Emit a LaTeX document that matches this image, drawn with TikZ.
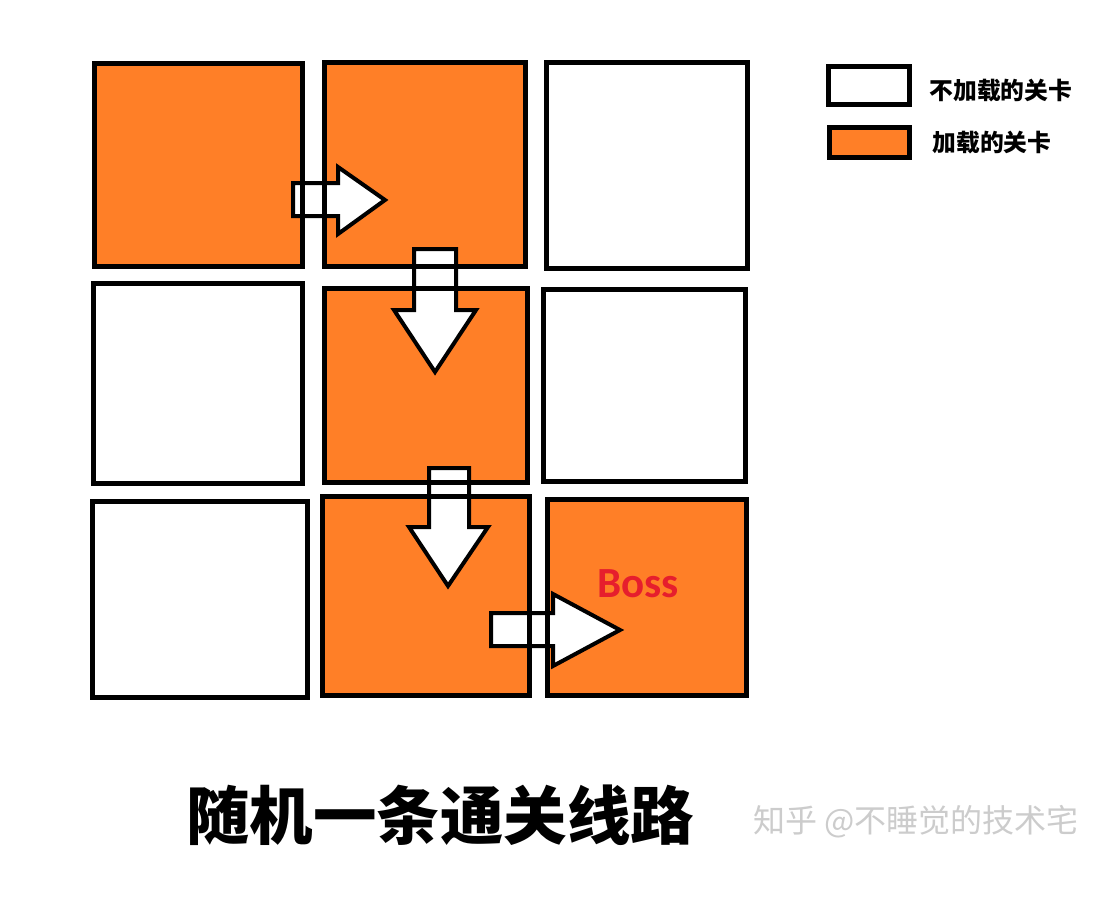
\documentclass[tikz,border=0pt]{standalone}
\usepackage{fontspec}
\newfontfamily\cjk{Noto Sans CJK SC}
\newfontfamily\bossfont{Carlito}
\definecolor{lvorange}{RGB}{255,127,39}
\definecolor{bossred}{RGB}{230,30,45}
\tikzset{
  level/.style={line width=5pt},
  loaded/.style={fill=lvorange},
  bigarrow/.style={fill=white,draw=black,line width=4pt,line join=miter},
  legendtext/.style={font=\cjk\bfseries\fontsize{23.8}{24}\selectfont,anchor=west}
}

\begin{document}
\begin{tikzpicture}[x=1pt,y=-1pt]
\useasboundingbox[fill=white] (0,0) rectangle (1111,897);

% loaded levels
\fill[loaded] (94,63) rectangle (302,266);
\fill[loaded] (324,62) rectangle (525,266);
\fill[loaded] (324,288) rectangle (527,482);
\fill[loaded] (322,496) rectangle (529,695);
\fill[loaded] (547,499) rectangle (746,695);

% path
\draw[bigarrow] (293,183) -- (338,183) -- (338,167) -- (385,200) -- (338,234) -- (338,216) -- (293,216) -- cycle;
\draw[bigarrow] (414,249) -- (456,249) -- (456,310) -- (476,310) -- (435,372) -- (394,310) -- (414,310) -- cycle;
\draw[bigarrow] (429,468) -- (469,468) -- (469,527) -- (488,527) -- (448,586) -- (409,527) -- (429,527) -- cycle;
\draw[bigarrow] (491,613) -- (553,613) -- (553,594) -- (620,630) -- (553,666) -- (553,646) -- (491,646) -- cycle;

% level borders
\draw[level] (94,63) rectangle (302,266);
\draw[level] (324,62) rectangle (525,266);
\draw[level] (546,62) rectangle (747,268);
\draw[level] (93,283) rectangle (302,483);
\draw[level] (324,288) rectangle (527,482);
\draw[level] (543,289) rectangle (745,481);
\draw[level] (92,501) rectangle (307,697);
\draw[level] (322,496) rectangle (529,695);
\draw[level] (547,499) rectangle (746,695);

\node[font=\bossfont\bfseries\fontsize{43}{43}\selectfont,text=bossred] (boss) at (638,584) {Boss};

% legend
\draw[level] (828,66) rectangle (909,104);
\draw[level,loaded] (829,127) rectangle (909,157);
\node[legendtext] (unloaded) at (926,91) {不加载的关卡};
\node[legendtext] (loadedtxt) at (929,143) {加载的关卡};

\node[font=\cjk\bfseries\fontsize{63.5}{64}\selectfont] (title) at (440,815) {随机一条通关线路};
\node[font=\cjk\fontsize{32}{32}\selectfont,text=black!20] (mark) at (916,822) {知乎 @不睡觉的技术宅};
\end{tikzpicture}
\end{document}
